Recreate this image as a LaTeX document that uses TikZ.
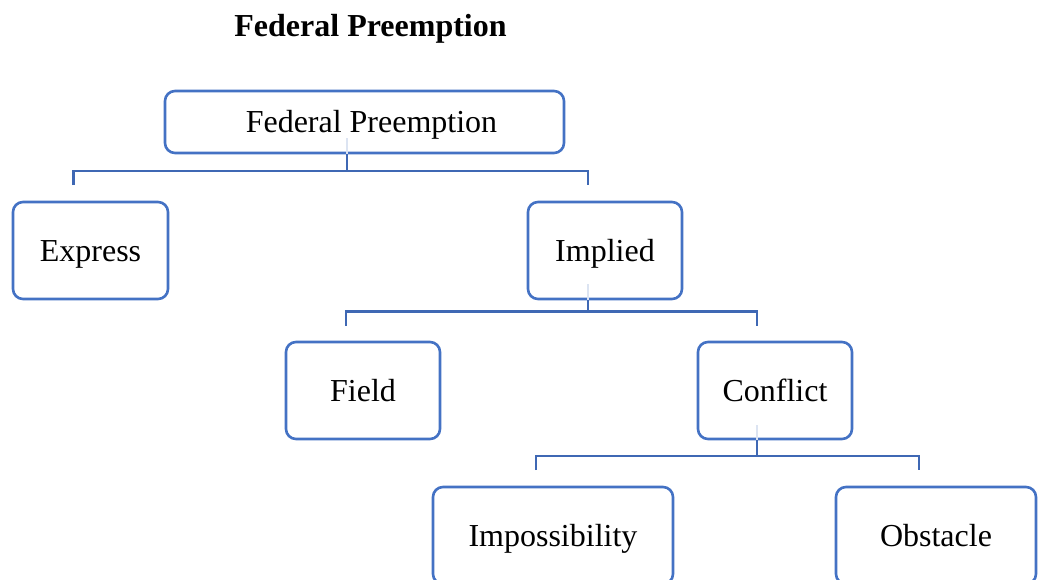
\documentclass[tikz,border=0pt]{standalone}
\usepackage{fontspec}
\setmainfont{Liberation Serif}
\definecolor{boxblue}{HTML}{4472C4}
\definecolor{linkblue}{HTML}{3F68B4}
\definecolor{paleblue}{HTML}{DCE4F2}
\begin{document}
\begin{tikzpicture}[x=1pt, y=-1pt]
    \tikzstyle{box}=[draw=boxblue, line width=2.6pt, rounded corners=10pt, fill=white,
        minimum height=97pt, inner sep=0pt, text height=28pt, text depth=7pt,
        font=\fontsize{32}{38}\selectfont]
    \tikzstyle{link}=[draw=linkblue, line width=2.5pt]
    \tikzstyle{faint}=[draw=paleblue, line width=2.5pt]

    \useasboundingbox (0,0) rectangle (1039,579);
    \clip (0,0) rectangle (1039,579);

    \node[anchor=base, font=\fontsize{32}{38}\selectfont\bfseries] (title) at (370.5,36) {Federal Preemption};

    \node[box, minimum width=399pt, minimum height=62pt] (fp) at (364.5,122) {\hspace*{14pt}Federal Preemption};
    \node[box, minimum width=155pt] (express) at (90.5,250.5) {Express};
    \node[box, minimum width=154pt] (implied) at (605,250.5) {Implied};
    \node[box, minimum width=154pt] (field) at (363,390.5) {Field};
    \node[box, minimum width=154pt] (conflict) at (775,390.5) {Conflict};
    \node[box, minimum width=240pt] (impos) at (553,535.5) {Impossibility};
    \node[box, minimum width=200pt] (obst) at (936,535.5) {Obstacle};

    % joints and drop ends
    \coordinate (fpbar) at (347,171);
    \coordinate (expdrop) at (73.5,185);
    \coordinate (impdrop) at (588,185);
    \coordinate (imbar) at (588,311.5);
    \coordinate (fldrop) at (346,325.5);
    \coordinate (cfdrop) at (757,325.5);
    \coordinate (cfbar) at (757,456);
    \coordinate (ipdrop) at (536,470);
    \coordinate (obdrop) at (919,470);

    \draw[faint] ([xshift=-17.5pt]fp.south) -- ++(0,-16);
    \draw[link] ([xshift=-17.5pt]fp.south) -- (fpbar);
    \draw[link] (expdrop) |- (fpbar) -| (impdrop);

    \draw[faint] ([xshift=-17pt]implied.south) -- ++(0,-16);
    \draw[link] ([xshift=-17pt]implied.south) -- (imbar);
    \draw[link] (fldrop) |- (imbar) -| (cfdrop);

    \draw[faint] ([xshift=-18pt]conflict.south) -- ++(0,-15);
    \draw[link] ([xshift=-18pt]conflict.south) -- (cfbar);
    \draw[link] (ipdrop) |- (cfbar) -| (obdrop);
\end{tikzpicture}
\end{document}
